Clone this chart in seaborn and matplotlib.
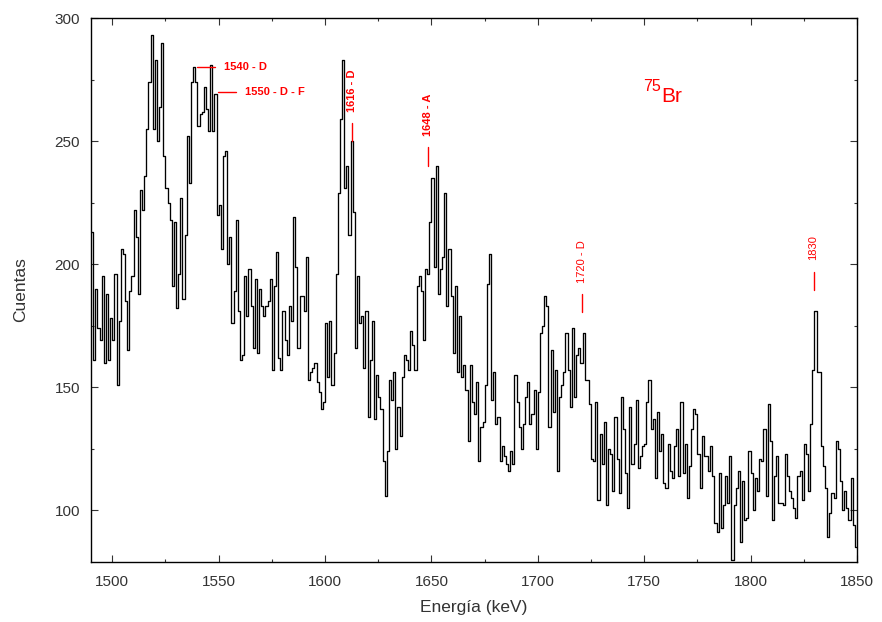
import numpy as np
import pandas as pd
import matplotlib
matplotlib.use("Agg")
import matplotlib.pyplot as plt
import seaborn as sns

# Espectro de 75Br: cuentas por canal de 1 keV, desde 1490 keV
energia_inicio = 1490
cuentas = [
    # 1490-1531
    213, 161, 190, 174, 169, 195, 160, 188, 161, 178,
    169, 196, 151, 177, 206, 204, 185, 165, 189, 195,
    222, 211, 188, 230, 222, 236, 255, 274, 293, 255,
    283, 250, 264, 290, 244, 231, 225, 218, 191, 217,
    182, 196,
    # 1532-1578
    227, 186, 212, 252, 233, 274, 280, 274,
    256, 261, 262, 272, 263, 254, 281, 254, 269, 220,
    224, 206, 244, 246, 200, 211, 176, 189, 218, 181,
    161, 163, 195, 179, 198, 183, 166, 194, 164, 190,
    183, 179, 183, 185, 194, 157, 191, 205, 162,
    # 1579-1621
    157, 181, 169, 163, 183, 177, 219, 199, 166, 187,
    187, 181, 203, 153, 156, 158, 160, 152, 148, 141,
    144, 176, 154, 177, 151, 164, 196, 229, 259, 283,
    231, 240, 212, 250, 221, 166, 195, 176, 179, 158,
    181, 138, 161,
    # 1622-1663
    177, 137, 155, 146, 141, 120, 106, 124, 153, 145,
    156, 125, 142, 130, 154, 163, 161, 157, 173, 167,
    157, 191, 195, 189, 169, 198, 196, 217, 235, 199,
    240, 188, 198, 203, 229, 183, 206, 187, 164, 191,
    156, 179,
    # 1664-1704
    154, 159, 149, 128, 159, 144, 139, 152, 120, 134,
    136, 151, 192, 204, 145, 156, 135, 138, 120, 126,
    122, 119, 116, 124, 119, 155, 144, 134, 125, 135,
    146, 152, 135, 139, 149, 125, 148, 172, 175, 187,
    183,
    # 1705-1748
    134, 165, 140, 157, 116, 146, 151, 156, 172, 157,
    142, 174, 146, 163, 166, 160, 172, 153, 153, 143,
    121, 120, 144, 104, 131, 119, 136, 102, 125, 123,
    108, 138, 121, 107, 146, 133, 115, 101, 142, 119,
    127, 145, 117, 122,
    # 1749-1790
    126, 127, 144, 153, 133, 137, 113, 140, 124, 131,
    111, 109, 127, 116, 113, 126, 133, 114, 144, 115,
    127, 105, 118, 133, 141, 139, 123, 109, 130, 122,
    122, 116, 126, 114, 95, 91, 115, 93, 102, 114,
    103, 122,
    # 1791-1849
    80, 102, 109, 116, 87, 112, 96, 97, 124, 115,
    100, 113, 108, 121, 120, 133, 106, 143, 128, 96,
    114, 122, 103, 103, 102, 123, 114, 108, 105, 101,
    97, 114, 116, 104, 127, 123, 108, 135, 157, 181,
    156, 156, 126, 118, 109, 89, 99, 107, 105, 128,
    125, 112, 100, 108, 101, 96, 113, 94, 85,
]

# Lineas marcadas (horizontales con texto a la derecha)
lineas_h_txt = ['1540 - D', '1550 - D - F']
lineas_h_e = [1540, 1549.7]
lineas_h_y = [280, 270]

# Lineas marcadas (verticales con texto rotado encima)
lineas_v_txt = ['1616 - D', '1648 - A', '1720 - D', '1830']
lineas_v_e = [1612.8, 1648.5, 1720.9, 1829.6]
lineas_v_y = [250, 240, 180.5, 189.5]
lineas_v_peso = ['bold', 'bold', 'normal', 'normal']

n = len(cuentas)
df = pd.DataFrame({'energia': energia_inicio + np.arange(n) + 0.5, 'cuentas': cuentas})

sns.set_theme(style='ticks')
plt.rcParams['font.family'] = ['Liberation Sans', 'DejaVu Sans']

fig = plt.figure(figsize=(8.82, 6.22), dpi=100)
ax = fig.add_axes([91 / 882, 1 - 562 / 622, (857 - 91) / 882, (562 - 18) / 622])

sns.histplot(data=df, x='energia', weights='cuentas', binwidth=1,
             binrange=(energia_inicio, energia_inicio + n),
             element='step', fill=False, color='black', linewidth=0.95, ax=ax)

ax.set_xlim(1490, 1850)
ax.set_ylim(79, 300)
ax.set_xticks(np.arange(1500, 1851, 50))
ax.set_yticks(np.arange(100, 301, 50))
ax.set_xticks(np.arange(1500, 1851, 25), minor=True)
ax.set_yticks(np.arange(100, 301, 25), minor=True)
ax.tick_params(which='both', direction='in', top=True, right=True,
               labelsize=11, colors='#333333', width=0.8)
ax.tick_params(which='major', length=5)
ax.tick_params(which='minor', length=2.5)
ax.tick_params(axis='x', pad=9)
ax.tick_params(axis='y', pad=8)
for s in ax.spines.values():
    s.set_linewidth(1.0)
    s.set_color('black')

ax.set_xlabel('Energía (keV)', fontsize=12.5, labelpad=8, color='#333333')
ax.set_ylabel('Cuentas', fontsize=12.5, labelpad=19, color='#333333')

rojo = '#ff0000'
for txt, e, y in zip(lineas_h_txt, lineas_h_e, lineas_h_y):
    ax.plot([e, e + 8.5], [y, y], color=rojo, lw=1.0)
    ax.text(e + 12.5, y, txt, color=rojo, fontsize=8, fontweight='bold',
            va='center', ha='left')

for txt, e, y, w in zip(lineas_v_txt, lineas_v_e, lineas_v_y, lineas_v_peso):
    ax.plot([e, e], [y, y + 7.5], color=rojo, lw=1.0)
    ax.text(e, y + 12, txt, color=rojo, fontsize=8, fontweight=w,
            rotation=90, va='bottom', ha='center')

ax.text(1758, 266, 'Br', color=rojo, fontsize=15, ha='left', va='baseline')
ax.annotate('75', xy=(1758, 266), xytext=(-0.5, 7.5), textcoords='offset points',
            color=rojo, fontsize=11.5, ha='right', va='baseline')

fig.savefig('out.png', dpi=100)
